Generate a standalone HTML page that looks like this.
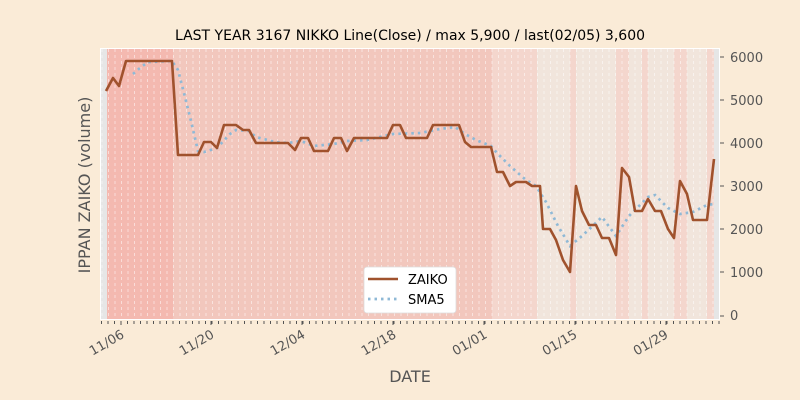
<!DOCTYPE html>
<html><head><meta charset="utf-8"><style>
body{margin:0;background:#faebd7;}
svg{display:block;font-family:"DejaVu Sans","Liberation Sans",sans-serif;}
</style></head><body>
<svg width="800" height="400" xmlns="http://www.w3.org/2000/svg">
<defs>
<pattern id="gp" x="101.5" y="49" width="6.5" height="6" patternUnits="userSpaceOnUse">
<rect x="0" y="0" width="1" height="3" fill="#ffffff" fill-opacity="0.5"/>
</pattern>
<pattern id="tp" x="101" y="321" width="6.5" height="3" patternUnits="userSpaceOnUse">
<rect x="0" y="0" width="1" height="3" fill="#555"/>
</pattern>
</defs>
<rect width="800" height="400" fill="#faebd7"/>
<text x="410" y="40" font-size="14" text-anchor="middle" fill="#000">LAST YEAR 3167 NIKKO Line(Close) / max 5,900 / last(02/05) 3,600</text>
<rect x="100" y="48" width="620" height="272" fill="#ffffff"/>
<rect x="101" y="49" width="618" height="270" fill="#e6e6e6"/>
<rect x="107" y="49" width="66" height="270" fill="#f4b9b0"/>
<rect x="173" y="49" width="319" height="270" fill="#f2c7bd"/>
<rect x="492" y="49" width="45" height="270" fill="#f4d6cd"/>
<rect x="537" y="49" width="177" height="270" fill="#f1e5dc"/>
<rect x="570" y="49" width="6" height="270" fill="#f4d6cd"/>
<rect x="616" y="49" width="13" height="270" fill="#f4d6cd"/>
<rect x="642" y="49" width="6" height="270" fill="#f4d6cd"/>
<rect x="674" y="49" width="13" height="270" fill="#f4d6cd"/>
<rect x="707" y="49" width="7" height="270" fill="#f4d6cd"/>
<rect x="101" y="49" width="618" height="270" fill="url(#gp)"/>
<rect x="101" y="321" width="619" height="3" fill="url(#tp)"/>
<g stroke="#555"><line x1="121" y1="321" x2="121" y2="325"/><line x1="211" y1="321" x2="211" y2="325"/><line x1="302" y1="321" x2="302" y2="325"/><line x1="393" y1="321" x2="393" y2="325"/><line x1="484" y1="321" x2="484" y2="325"/><line x1="575" y1="321" x2="575" y2="325"/><line x1="666" y1="321" x2="666" y2="325"/></g>
<polyline fill="none" stroke="#8fb9d6" stroke-width="2.7" stroke-dasharray="2.5,4" points="133,74 140,68 148,62 172,61 178,70 185,97 191,121 198,151 204,152 217,148 230,134 236,130 249,131 256,137 275,142 288,143 301,141 314,146 334,144 347,141 367,140 393,134 420,133 440,129 455,127 465,134 476,140 491,146 497,153 510,166 526,180 536,186 546,202 558,226 570,246 582,236 602,217 616,236 629,216 648,197 655,195 668,208 680,214 693,212 707,205 714,204"/>
<polyline fill="none" stroke="#a0522d" stroke-width="2.6" stroke-linejoin="round" points="106,91 113,78 119,86 126,61 172,61 178,155 198,155 204,142 211,142 217,148 224,125 236,125 243,130 249,130 256,143 288,143 295,150 301,138 308,138 314,151 328,151 334,138 341,138 347,151 354,138 387,138 393,125 400,125 406,138 427,138 433,125 459,125 465,142 471,147 491,147 497,172 503,172 510,186 516,182 526,182 532,186 540,186 543,229 550,229 556,240 563,260 570,272 576,186 582,211 589,225 596,225 602,238 609,238 616,255 622,168 629,177 635,211 642,211 648,199 655,211 661,211 668,229 674,238 680,181 687,194 693,220 707,220 714,159"/>
<rect x="364" y="267" width="92" height="46" rx="3" fill="#fff" stroke="#ddd" stroke-width="0.8"/>
<line x1="368" y1="279" x2="398" y2="279" stroke="#a0522d" stroke-width="2.6"/>
<line x1="368" y1="299" x2="398" y2="299" stroke="#8fb9d6" stroke-width="2.7" stroke-dasharray="2.5,4"/>
<text x="408" y="284" font-size="13" fill="#000">ZAIKO</text>
<text x="408" y="304" font-size="13" fill="#000">SMA5</text>
<g font-size="13" fill="#555">
<text x="730" y="62">6000</text><text x="730" y="105">5000</text><text x="730" y="148">4000</text>
<text x="730" y="191">3000</text><text x="730" y="234">2000</text><text x="730" y="277">1000</text><text x="730" y="320">0</text>
</g>
<g stroke="#555"><line x1="720" y1="57" x2="724" y2="57"/><line x1="720" y1="100" x2="724" y2="100"/><line x1="720" y1="143" x2="724" y2="143"/><line x1="720" y1="186" x2="724" y2="186"/><line x1="720" y1="229" x2="724" y2="229"/><line x1="720" y1="272" x2="724" y2="272"/><line x1="720" y1="316" x2="724" y2="316"/></g>
<g font-size="13" fill="#555" text-anchor="end">
<text transform="translate(125,337) rotate(-30)">11/06</text>
<text transform="translate(215,337) rotate(-30)">11/20</text>
<text transform="translate(306,337) rotate(-30)">12/04</text>
<text transform="translate(397,337) rotate(-30)">12/18</text>
<text transform="translate(488,337) rotate(-30)">01/01</text>
<text transform="translate(578,337) rotate(-30)">01/15</text>
<text transform="translate(669,337) rotate(-30)">01/29</text>
</g>
<text x="410" y="382" font-size="16" fill="#555" text-anchor="middle">DATE</text>
<text transform="translate(90,185) rotate(-90)" font-size="16" fill="#555" text-anchor="middle">IPPAN ZAIKO (volume)</text>
</svg>
</body></html>
